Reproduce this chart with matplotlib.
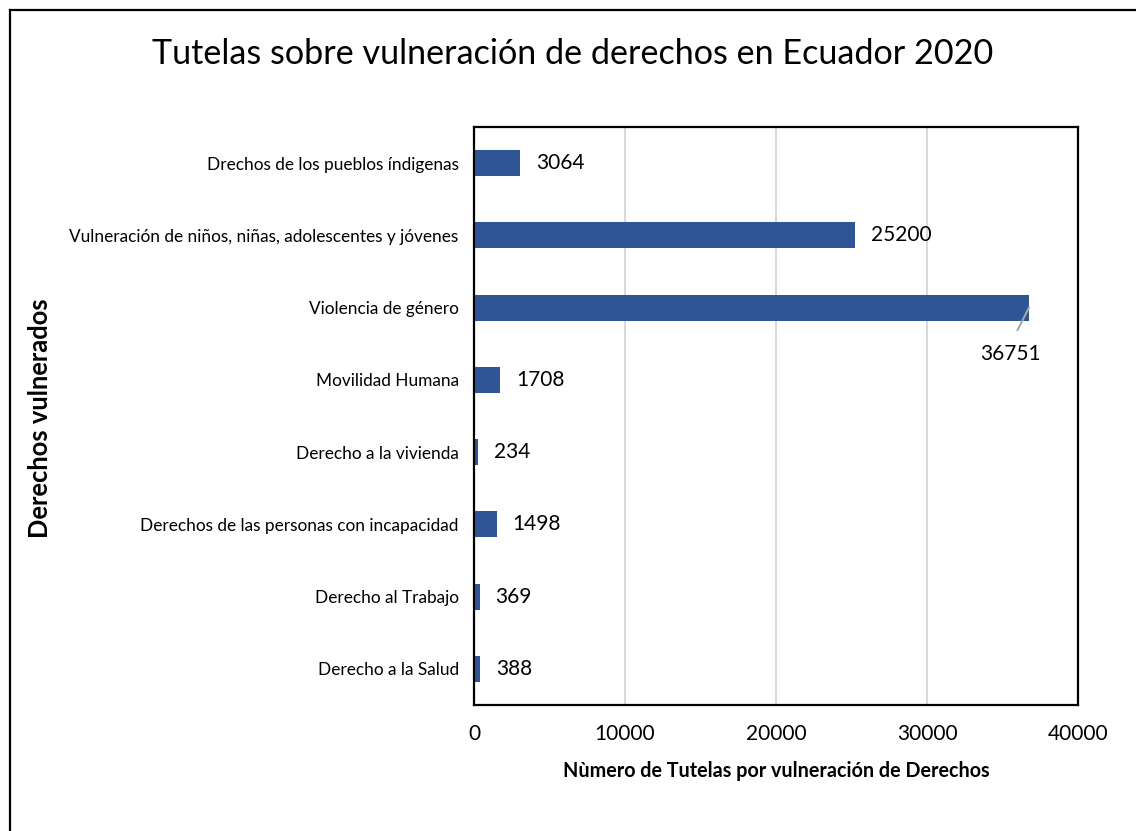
import matplotlib.pyplot as plt
from matplotlib.lines import Line2D

plt.rcParams['font.family'] = ['Lato', 'DejaVu Sans']

# data (top to bottom as shown)
categories = [
    "Drechos de los pueblos índigenas",
    "Vulneración de niños, niñas, adolescentes y jóvenes",
    "Violencia de género",
    "Movilidad Humana",
    "Derecho a la vivienda",
    "Derechos de las personas con incapacidad",
    "Derecho al Trabajo",
    "Derecho a la Salud",
]
values = [3064, 25200, 36751, 1708, 234, 1498, 369, 388]
x_ticks = [0, 10000, 20000, 30000, 40000]

bar_color = "#2F5597"

fig = plt.figure(figsize=(11.36, 8.31), dpi=100)
ax = fig.add_axes([474 / 1136, 1 - 705 / 831, 604 / 1136, 578 / 831])

ypos = list(range(len(categories)))
ax.barh(ypos, values, height=0.36, color=bar_color, zorder=3)
ax.set_ylim(len(categories) - 0.5, -0.5)
ax.set_xlim(0, 40000)
ax.set_yticks(ypos)
ax.set_yticklabels(categories, fontsize=12.4)
ax.set_xticks(x_ticks)
ax.set_xticklabels([str(t) for t in x_ticks], fontsize=15)
ax.tick_params(axis='both', length=0)
ax.tick_params(axis='y', pad=11)
ax.tick_params(axis='x', pad=14)
ax.grid(axis='x', color='#D9D9D9', linewidth=1.5, zorder=0)
for sp in ax.spines.values():
    sp.set_linewidth(1.6)
    sp.set_color('black')
    sp.set_zorder(5)

# value labels
for y, v in zip(ypos, values):
    if v > 35000:
        # label pushed below the bar end with a leader line
        ax.plot([v, v - 750], [y, y + 0.31], color='#A6A6A6', lw=1.5, zorder=4)
        ax.text(v - 1200, y + 0.64, str(v), fontsize=15, ha='center', va='center')
    else:
        ax.annotate(str(v), xy=(v, y), xytext=(16, 0), textcoords='offset pixels',
                    fontsize=15, ha='left', va='center')

ax.set_xlabel("Nùmero de Tutelas por vulneración de Derechos", fontsize=14.2,
              fontweight='bold', labelpad=12)
fig.text(40 / 1136, 1 - 418 / 831, "Derechos vulnerados", rotation=90,
         fontsize=18.4, fontweight='bold', ha='center', va='center')
fig.text(573 / 1136, 1 - 54 / 831, "Tutelas sobre vulneración de derechos en Ecuador 2020",
         fontsize=24.6, ha='center', va='center')

# outer chart border (left and top visible)
fig.add_artist(Line2D([9.5 / 1136, 9.5 / 1136], [0, 1 - 9.5 / 831], color='black', lw=1.6))
fig.add_artist(Line2D([9.5 / 1136, 1], [1 - 9.5 / 831, 1 - 9.5 / 831], color='black', lw=1.6))

fig.savefig("out.png", dpi=100)
